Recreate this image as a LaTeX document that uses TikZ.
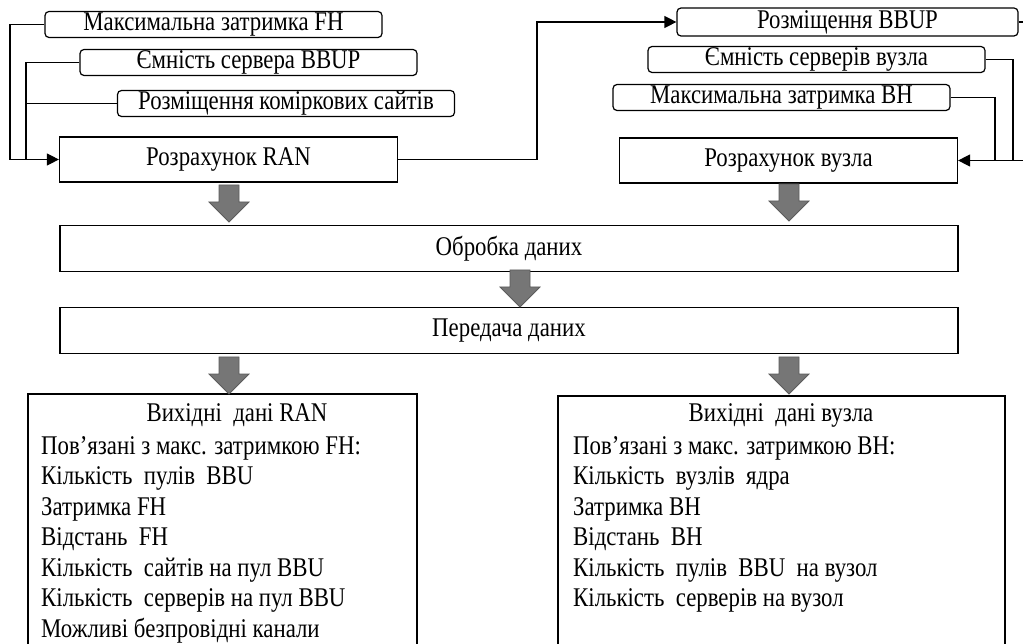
\documentclass[tikz,border=0pt]{standalone}
\usepackage{fontspec}
\setmainfont{Liberation Serif}[FakeStretch=0.845]
\usepackage{tikz}
\usetikzlibrary{arrows.meta}
\usetikzlibrary{calc}
\usetikzlibrary{positioning}

\definecolor{arrowgray}{RGB}{118,118,118}
\definecolor{arrowedge}{RGB}{92,92,92}

\tikzset{
  param/.style={draw, rounded corners=4pt, line width=1.2pt, minimum width=337pt, minimum height=26pt, inner sep=0pt},
  calcbox/.style={draw, line width=1.2pt, minimum width=338pt, minimum height=45pt, inner sep=0pt},
  widebox/.style={draw, line width=1.2pt, minimum width=898pt, minimum height=46pt, inner sep=0pt},
  outbox/.style={draw, line width=1.2pt, inner sep=0pt},
  listtext/.style={anchor=north west, align=left, inner sep=0pt, font=\fontsize{27}{30.5}\selectfont},
  link/.style={line width=1.2pt},
  feed/.style={line width=1.2pt, -{Triangle[length=12pt,width=12pt]}},
  bigarrow/.style={fill=arrowgray, draw=arrowedge, line width=0.8pt}
}

\begin{document}
\begin{tikzpicture}[x=1pt, y=-1pt, font=\fontsize{27}{30.5}\selectfont]
            \clip (0,0) rectangle (1023,644);

            % RAN side
            \draw (213.5,24.5) node[param]                (fhmax) {Максимальна затримка FH};
            \draw (248.5,62.5) node[param]                (bbupcap) {Ємність сервера BBUP};
            \draw (286,103.5) node[param]                 (sites) {Розміщення коміркових сайтів};
            \draw (228.5,159.5) node[calcbox]             (ran) {Розрахунок RAN};

            % node side
            \draw (847.5,22) node[param, minimum width=341pt, minimum height=28pt] (bbupplace) {Розміщення BBUP};
            \draw (816.5,59.5) node[param]                (nodecap) {Ємність серверів вузла};
            \draw (781.5,97.5) node[param]                (bhmax) {Максимальна затримка BH};
            \draw (788.5,160.5) node[calcbox]             (nodecalc) {Розрахунок вузла};

            \draw (509,248.5) node[widebox]               (proc) {Обробка даних};
            \draw (509,330.5) node[widebox]               (trans) {Передача даних};

            \draw (222.5,537) node[outbox, minimum width=389pt, minimum height=286pt] (outran) {};
            \draw (781.5,538) node[outbox, minimum width=447pt, minimum height=284pt] (outnode) {};

            \node[anchor=base] (ranhead) at (237,421) {Вихідні\ \ дані RAN};
            \node[listtext] (ranlist) at (41,436) {Пов’язані з макс. затримкою FH:\\ Кількість\ \ пулів\ \ BBU\\ Затримка FH\\ Відстань\ \ FH\\ Кількість\ \ сайтів на пул BBU\\ Кількість\ \ серверів на пул BBU\\ Можливі безпровідні канали};
            \node[anchor=base] (nodehead) at (781,421) {Вихідні\ \ дані вузла};
            \node[listtext] (nodelist) at (573,436) {Пов’язані з макс. затримкою BH:\\ Кількість\ \ вузлів\ \ ядра\\ Затримка BH\\ Відстань\ \ BH\\ Кількість\ \ пулів\ \ BBU\ \ на вузол\\ Кількість\ \ серверів на вузол};

            % connectors
            \coordinate (lout) at (10,0);
            \coordinate (lin) at (26,0);
            \coordinate (jog) at (537,0);
            \coordinate (rout) at (1027,0);
            \coordinate (rmid) at (1013,0);
            \coordinate (rin) at (995,0);
            \draw[feed] (fhmax.west) -| (lout |- ran.west) -- (ran.west);
            \draw[link] (bbupcap.west) -| (lin |- ran.west);
            \draw[link] (sites.west) -- (sites.west -| lin);
            \draw[feed] (ran.east) -- (ran.east -| jog) |- (bbupplace.west);
            \draw[feed] (bbupplace.east) -| (rout |- nodecalc.east) -- (nodecalc.east);
            \draw[link] (nodecap.east) -| (rmid |- nodecalc.east);
            \draw[link] (bhmax.east) -| (rin |- nodecalc.east);

            % block arrows
            \foreach \x/\t in {229/185, 789/184, 520/270, 229/357, 789/357}
              \draw[bigarrow] (\x-10,\t) -- (\x+10,\t) -- (\x+10,\t+17) -- (\x+20,\t+17) -- (\x,\t+37) -- (\x-20,\t+17) -- (\x-10,\t+17) -- cycle;

\end{tikzpicture}
\end{document}
